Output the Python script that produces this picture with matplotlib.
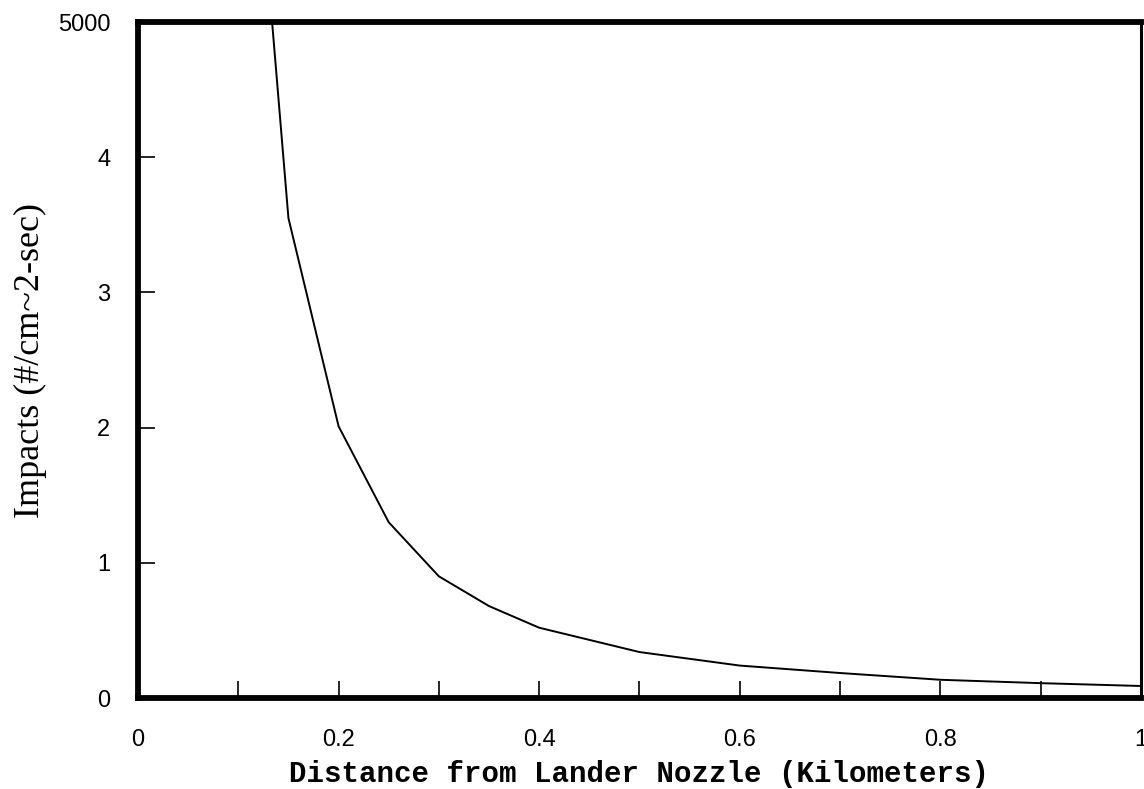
import numpy as np
import matplotlib.pyplot as plt
from matplotlib.ticker import MultipleLocator

# Valores (impactos por cm^2 por segundo)
distance_km = [0.10, 0.15, 0.20, 0.25, 0.30, 0.35, 0.40, 0.50, 0.60, 0.70, 0.80, 0.90, 1.00]
impacts = [8.0, 3.55, 2.01, 1.30, 0.90, 0.68, 0.52, 0.34, 0.24, 0.185, 0.135, 0.11, 0.089]

x_ticks = [0, 0.2, 0.4, 0.6, 0.8, 1.0]
x_tick_labels = ['0', '0.2', '0.4', '0.6', '0.8', '1']
y_ticks = [0, 1, 2, 3, 4, 5]
y_tick_labels = ['0', '1', '2', '3', '4', '5000']

fig = plt.figure(figsize=(11.44, 7.89), dpi=100)
ax = fig.add_axes([0.1206, 0.1153, 0.8768, 0.8568])

ax.plot(distance_km, impacts, color='black', linewidth=1.4)

ax.set_xlim(0, 1)
ax.set_ylim(0, 5)

ax.set_xticks(x_ticks)
ax.set_xticklabels(x_tick_labels)
ax.xaxis.set_minor_locator(MultipleLocator(0.1))
ax.set_yticks(y_ticks)
ax.set_yticklabels(y_tick_labels)

ax.tick_params(axis='both', which='both', direction='in', length=12, width=1.2,
               labelsize=17, top=False, right=False)
ax.tick_params(axis='x', which='major', pad=22)
ax.tick_params(axis='y', which='major', pad=20)
for lbl in ax.get_xticklabels() + ax.get_yticklabels():
    lbl.set_family('Liberation Sans')

for side in ['left', 'bottom', 'top']:
    ax.spines[side].set_linewidth(4.2)
ax.spines['right'].set_linewidth(2.2)

ax.set_xlabel('Distance from Lander Nozzle (Kilometers)', family='Liberation Mono',
              fontweight='bold', fontsize=21, labelpad=7)
ax.set_ylabel('Impacts (#/cm~2-sec)', family='Liberation Serif', fontsize=26, labelpad=8)

fig.savefig('out.png', dpi=100)
